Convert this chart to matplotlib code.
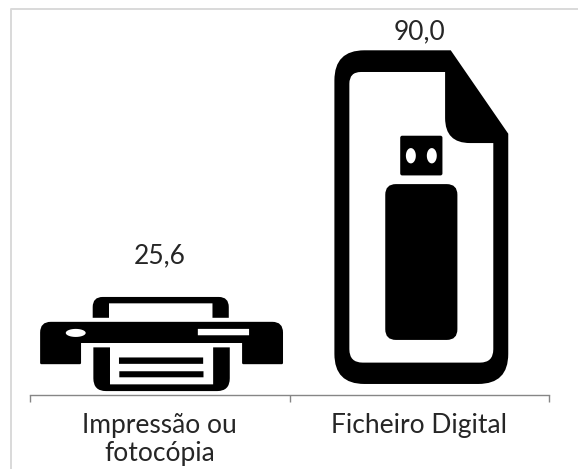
#!/usr/bin/env python3
"""Pictograph bars: printer vs digital file, icons scaled to the values."""
import matplotlib
matplotlib.use("Agg")
import matplotlib.pyplot as plt
from matplotlib.patches import PathPatch
from matplotlib.path import Path
import numpy as np

CATEGORIES = ["Impressão ou\nfotocópia", "Ficheiro Digital"]
VALUES = [25.6, 90.0]
VALUE_LABELS = ["25,6", "90,0"]

W_PX, H_PX, DPI = 578, 469, 100
plt.rcParams["font.family"] = ["Lato", "DejaVu Sans"]


def rounded(points):
    """(x, y, r) corners -> vertices and codes with quadratic corners."""
    pts = np.array([p[:2] for p in points], dtype=float)
    rad = [p[2] if len(p) > 2 else 0 for p in points]
    verts, codes = [], []
    n = len(pts)
    for i in range(n):
        p, prev, nxt = pts[i], pts[i - 1], pts[(i + 1) % n]
        r = rad[i]
        if r:
            a = p + (prev - p) / np.linalg.norm(prev - p) * r
            b = p + (nxt - p) / np.linalg.norm(nxt - p) * r
            verts += [a, p, b]
            codes += [Path.LINETO, Path.CURVE3, Path.CURVE3]
        else:
            verts.append(p)
            codes.append(Path.LINETO)
    codes[0] = Path.MOVETO
    verts.append(verts[0])
    codes.append(Path.CLOSEPOLY)
    return np.array(verts), codes


def area(points):
    p = np.array([q[:2] for q in points], dtype=float)
    return 0.5 * np.sum(p[:, 0] * np.roll(p[:, 1], -1) - np.roll(p[:, 0], -1) * p[:, 1])


def oval(cx, cy, rx, ry):
    t = np.linspace(0, 2 * np.pi, 32, endpoint=False)
    return [(cx + rx * np.cos(a), cy + ry * np.sin(a)) for a in t]


def box(x0, y0, x1, y1, r=0):
    return [(x0, y0, r), (x1, y0, r), (x1, y1, r), (x0, y1, r)]


def glyph(solids, holes=()):
    """Compound path; holes wound opposite to solids (nonzero fill)."""
    parts = []
    for shape, sign in [(s, 1) for s in solids] + [(h, -1) for h in holes]:
        pts = list(shape) if area(shape) * sign > 0 else list(shape)[::-1]
        v, c = rounded(pts)
        parts.append(Path(v, c))
    return Path.make_compound_path(*parts)


# icon outlines, in the icon's own units (y down); scaled onto the bars below
PRINTER = glyph(
    [
        [(218, 265), (218, 203, 30), (627, 203, 30), (627, 265), (578, 265), (578, 222),
         (267, 222), (267, 265)],
        [(60, 277, 32), (790, 277, 32), (790, 403, 4), (667, 403, 4), (667, 340), (183, 340),
         (183, 403, 4), (60, 403, 4)],
        [(220, 353), (270, 353), (270, 463), (580, 463), (580, 353), (630, 353),
         (630, 483, 38), (220, 483, 38)],
        box(297, 383, 550, 402),
        box(298, 424, 551, 442),
    ],
    [oval(167, 310, 30, 12), box(534, 298, 688, 317)],
)
FILE_USB = glyph(
    [
        [(42, 122, 90), (392, 122), (565, 372), (565, 1122, 90), (42, 1122, 90)],
        box(240, 378, 367, 497, 6),
        box(195, 523, 412, 990, 32),
    ],
    [
        [(87, 187, 35), (375, 187), (375, 400, 75), (520, 400), (520, 1058, 40), (87, 1058, 40)],
        oval(272, 438, 15, 23),
        oval(335, 438, 15, 23),
    ],
)
ICONS = [PRINTER, FILE_USB]
ICON_WIDTH = [0.936, 0.67]      # share of the category width
ICON_FOOT = [0.04, 0.032]       # gap under the icon, share of its bar
ICON_SHIFT = [0.007, 0.008]
LABEL_PAD = [29.5, 13]          # points above the bar, to the label's middle


def place(path, xc, value, width, foot, shift):
    v = path.vertices
    x0, x1 = v[:, 0].min(), v[:, 0].max()
    y0, y1 = v[:, 1].min(), v[:, 1].max()
    out = np.empty_like(v)
    out[:, 0] = xc + shift + ((v[:, 0] - x0) / (x1 - x0) - 0.5) * width
    out[:, 1] = value * (foot + (1 - foot) * (y1 - v[:, 1]) / (y1 - y0))
    return Path(out, path.codes)


fig = plt.figure(figsize=(W_PX / DPI, H_PX / DPI), dpi=DPI, facecolor="white")
ax = fig.add_axes([30 / W_PX, 1 - 395 / H_PX, 519 / W_PX, 383 / H_PX])
ax.set_xlim(-0.5, 1.5)
ax.set_ylim(0, 100)
ax.set_yticks([])
for name in ("top", "left", "right"):
    ax.spines[name].set_visible(False)
ax.spines["bottom"].set_color("#868686")
ax.spines["bottom"].set_linewidth(1.0)

xs = np.arange(len(CATEGORIES))
ax.set_xticks([-0.5, 0.5, 1.5])
ax.set_xticklabels([])
ax.tick_params(axis="x", which="major", length=5, width=1.0, color="#868686")
ax.set_xticks(xs, minor=True)
ax.set_xticklabels(CATEGORIES, minor=True, fontsize=19, color="#262626", linespacing=1.15)
ax.tick_params(axis="x", which="minor", length=0, pad=13)

for i, x in enumerate(xs):
    ax.add_patch(PathPatch(place(ICONS[i], x, VALUES[i], ICON_WIDTH[i], ICON_FOOT[i], ICON_SHIFT[i]),
                           facecolor="black", edgecolor="none"))
    ax.annotate(VALUE_LABELS[i], (x, VALUES[i]), xytext=(0, LABEL_PAD[i]),
                textcoords="offset points", ha="center", va="center",
                fontsize=19, color="#262626", annotation_clip=False)

# frame of the chart area: only its top and left edges show in the picture
fig.add_artist(plt.Line2D([10.5 / W_PX, 10.5 / W_PX, 1], [0, 1 - 9.5 / H_PX, 1 - 9.5 / H_PX],
                          transform=fig.transFigure, color="#d9d9d9", linewidth=1.4))

fig.savefig("out.png", dpi=DPI, facecolor="white")
